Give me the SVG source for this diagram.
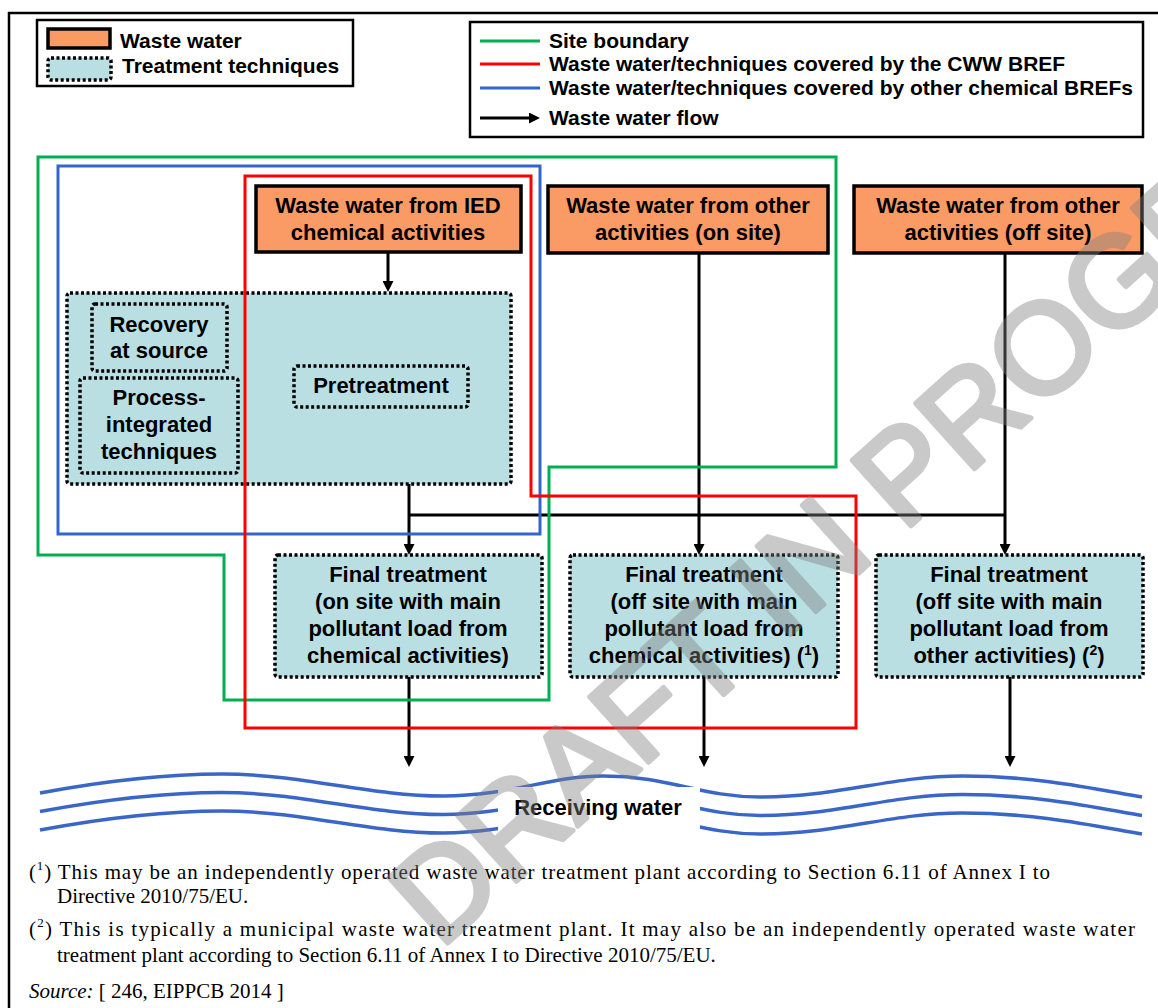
<svg xmlns="http://www.w3.org/2000/svg" width="1158" height="1008" viewBox="0 0 1158 1008">
<style>
.t{font-family:"Liberation Sans",Arial,sans-serif;font-weight:bold;font-size:22px;fill:#000;text-anchor:middle}
.lg{font-family:"Liberation Sans",Arial,sans-serif;font-weight:bold;font-size:21px;fill:#000}
.ww{fill:#fa9a65;stroke:#000;stroke-width:3.5}
.tt{fill:#b9dfe3;stroke:#000;stroke-width:3.5;stroke-dasharray:3 2.5}
.flow{stroke:#000;stroke-width:3;fill:none}
.fn{font-family:"Liberation Serif","Times New Roman",serif;font-size:21px;fill:#000}
.wave{fill:none;stroke:#3a66c8;stroke-width:3.5}
.bd{fill:none;stroke-width:3}
.sup{font-size:14px}
</style>
<defs>
<marker id="ah" markerUnits="userSpaceOnUse" markerWidth="11" markerHeight="11" refX="3" refY="5.5" orient="auto" viewBox="0 0 11 11"><path d="M0,0 L11,5.5 L0,11 z" fill="#000"/></marker>
<path id="wv" d="M40,793 C110,780 170,774 222,774 C300,774 370,796 443,796 C510,796 550,776 603,776 C670,776 700,797 760,797 C840,797 890,776 962,776 C1040,776 1100,790 1142,797"/>
</defs>
<rect width="1158" height="1008" fill="#fff"/>
<path d="M9,1012 V13 H1162" fill="none" stroke="#000" stroke-width="2.5"/>

<g id="legend-nodes">
<rect x="37" y="20" width="316" height="66" fill="#fff" stroke="#000" stroke-width="2.5"/>
<rect x="48" y="29" width="62" height="19" class="ww" stroke-width="3"/>
<rect x="48" y="58" width="63" height="22" rx="3" class="tt"/>
<text class="lg" x="120" y="48">Waste water</text>
<text class="lg" x="122" y="73">Treatment techniques</text>
</g>
<g id="legend-lines">
<rect x="470" y="22" width="673" height="115" fill="#fff" stroke="#000" stroke-width="2.5"/>
<line x1="480" y1="41" x2="540" y2="41" stroke="#00b050" stroke-width="3"/>
<line x1="480" y1="64" x2="540" y2="64" stroke="#ff0000" stroke-width="3"/>
<line x1="480" y1="88" x2="540" y2="88" stroke="#3366cc" stroke-width="3"/>
<line x1="480" y1="118" x2="532" y2="118" class="flow" marker-end="url(#ah)"/>
<text class="lg" x="549" y="48">Site boundary</text>
<text class="lg" x="549" y="71">Waste water/techniques covered by the CWW BREF</text>
<text class="lg" x="549" y="95">Waste water/techniques covered by other chemical BREFs</text>
<text class="lg" x="549" y="125">Waste water flow</text>
</g>

<g id="node-ied">
<rect x="256" y="186" width="265" height="66" class="ww"/>
<text class="t" x="388" y="213">Waste water from IED</text>
<text class="t" x="388" y="240">chemical activities</text>
</g>
<g id="node-onsite">
<rect x="548" y="186" width="280" height="67" class="ww"/>
<text class="t" x="688" y="213">Waste water from other</text>
<text class="t" x="688" y="240">activities (on site)</text>
</g>
<g id="node-offsite">
<rect x="854" y="186" width="288" height="67" class="ww"/>
<text class="t" x="998" y="213">Waste water from other</text>
<text class="t" x="998" y="240">activities (off site)</text>
</g>

<g id="node-treatment">
<rect x="67" y="293" width="444" height="191" rx="3" class="tt"/>
</g>
<g id="node-recovery">
<rect x="92" y="304" width="135" height="67" rx="3" class="tt"/>
<text class="t" x="159" y="332">Recovery</text>
<text class="t" x="159" y="358">at source</text>
</g>
<g id="node-process">
<rect x="80" y="378" width="158" height="95" rx="3" class="tt"/>
<text class="t" x="159" y="405">Process-</text>
<text class="t" x="159" y="432">integrated</text>
<text class="t" x="159" y="459">techniques</text>
</g>
<g id="node-pretreatment">
<rect x="294" y="366" width="174" height="41" rx="3" class="tt"/>
<text class="t" x="381" y="393">Pretreatment</text>
</g>

<g id="node-final1">
<rect x="275" y="555" width="267" height="122" rx="3" class="tt"/>
<text class="t" x="408" y="582">Final treatment</text>
<text class="t" x="408" y="609">(on site with main</text>
<text class="t" x="408" y="636">pollutant load from</text>
<text class="t" x="408" y="663">chemical activities)</text>
</g>
<g id="node-final2">
<rect x="570" y="555" width="268" height="122" rx="3" class="tt"/>
<text class="t" x="704" y="582">Final treatment</text>
<text class="t" x="704" y="609">(off site with main</text>
<text class="t" x="704" y="636">pollutant load from</text>
<text class="t" x="704" y="663">chemical activities) (<tspan class="sup" dy="-8">1</tspan><tspan dy="8">)</tspan></text>
</g>
<g id="node-final3">
<rect x="876" y="555" width="267" height="122" rx="3" class="tt"/>
<text class="t" x="1009" y="582">Final treatment</text>
<text class="t" x="1009" y="609">(off site with main</text>
<text class="t" x="1009" y="636">pollutant load from</text>
<text class="t" x="1009" y="663">other activities) (<tspan class="sup" dy="-8">2</tspan><tspan dy="8">)</tspan></text>
</g>

<g id="connectors">
<line x1="388" y1="252" x2="388" y2="284" class="flow" marker-end="url(#ah)"/>
<line x1="409" y1="484" x2="409" y2="547" class="flow" marker-end="url(#ah)"/>
<line x1="409" y1="515" x2="1005" y2="515" class="flow"/>
<line x1="699" y1="253" x2="699" y2="547" class="flow" marker-end="url(#ah)"/>
<line x1="1005" y1="253" x2="1005" y2="547" class="flow" marker-end="url(#ah)"/>
<line x1="409" y1="677" x2="409" y2="759" class="flow" marker-end="url(#ah)"/>
<line x1="704" y1="677" x2="704" y2="759" class="flow" marker-end="url(#ah)"/>
<line x1="1010" y1="677" x2="1010" y2="759" class="flow" marker-end="url(#ah)"/>
</g>

<g id="boundaries">
<path class="bd" stroke="#3366cc" d="M58,166 H540 V534 H58 Z"/>
<path class="bd" stroke="#00b050" d="M38,157 H836 V467 H549 V700 H224 V555 H38 Z"/>
<path class="bd" stroke="#ff0000" d="M245,176 H531 V496 H856 V728 H245 Z"/>
</g>

<g id="receiving-water">
<use href="#wv" class="wave"/>
<use href="#wv" class="wave" y="18.5"/>
<use href="#wv" class="wave" y="37"/>
<rect x="498" y="787" width="202" height="58" fill="#fff"/>
<text class="t" x="598" y="815">Receiving water</text>
</g>

<g id="footnotes">
<text class="fn" x="29" y="879" textLength="1021" lengthAdjust="spacing">(<tspan font-size="13" dy="-9">1</tspan><tspan dy="9">) This may be an independently operated waste water treatment plant according to Section 6.11 of Annex I to</tspan></text>
<text class="fn" x="57" y="903">Directive 2010/75/EU.</text>
<text class="fn" x="29" y="936" textLength="1106" lengthAdjust="spacing">(<tspan font-size="13" dy="-9">2</tspan><tspan dy="9">) This is typically a municipal waste water treatment plant. It may also be an independently operated waste water</tspan></text>
<text class="fn" x="57" y="962">treatment plant according to Section 6.11 of Annex I to Directive 2010/75/EU.</text>
<text class="fn" x="29" y="998"><tspan font-style="italic">Source:</tspan> [ 246, EIPPCB 2014 ]</text>
</g>

<g id="watermark" opacity="0.42">
<text x="440" y="950" transform="rotate(-42 440 950)" font-family="Liberation Sans, Arial, sans-serif" font-size="128" fill="#808080" stroke="#808080" stroke-width="5" stroke-linejoin="round">DRAFT IN PROGRESS</text>
</g>
</svg>
